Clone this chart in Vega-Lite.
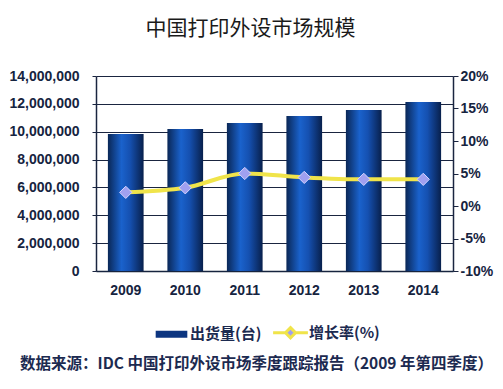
{
  "$schema": "https://vega.github.io/schema/vega-lite/v6.json",
  "width": 357,
  "height": 195,
  "autosize": {"type": "none"},
  "padding": {"left": 96, "top": 76, "right": 50, "bottom": 118},
  "background": "white",
  "config": {"view": {"stroke": null}},
  "title": {
    "text": "中国打印外设市场规模",
    "font": "Noto Sans CJK SC",
    "fontSize": 21,
    "fontWeight": "normal",
    "color": "#1a1a1a",
    "anchor": "middle",
    "baseline": "alphabetic",
    "offset": 13,
    "dx": -24
  },
  "data": {
    "values": [
      {"year": "2009", "shipments": 9830000, "growth": 2.1},
      {"year": "2010", "shipments": 10190000, "growth": 2.8},
      {"year": "2011", "shipments": 10620000, "growth": 5.0},
      {"year": "2012", "shipments": 11120000, "growth": 4.4},
      {"year": "2013", "shipments": 11560000, "growth": 4.1},
      {"year": "2014", "shipments": 12130000, "growth": 4.1}
    ]
  },
  "encoding": {
    "x": {
      "field": "year",
      "type": "ordinal",
      "scale": {"paddingInner": 0.4, "paddingOuter": 0.2},
      "axis": {
        "labelAngle": 0,
        "labelFont": "Liberation Sans",
        "labelFontWeight": "bold",
        "labelFontSize": 14,
        "labelColor": "#16243f",
        "labelPadding": 12,
        "ticks": false,
        "domainColor": "#16243f",
        "domainWidth": 1.5,
        "title": "数据来源：IDC 中国打印外设市场季度跟踪报告（2009 年第四季度）",
        "titleFont": "Noto Sans CJK SC",
        "titleFontSize": 15.5,
        "titleFontWeight": "bold",
        "titleColor": "#1c2a50",
        "titleAlign": "center",
        "titleBaseline": "middle",
        "titleX": 160,
        "titleY": 92
      }
    }
  },
  "layer": [
    {
      "mark": {
        "type": "bar",
        "fill": {
          "gradient": "linear",
          "x1": 0, "y1": 0, "x2": 1, "y2": 0,
          "stops": [
            {"offset": 0, "color": "#0a2756"},
            {"offset": 0.38, "color": "#1a62cc"},
            {"offset": 0.62, "color": "#1550b0"},
            {"offset": 1, "color": "#08204c"}
          ]
        }
      },
      "encoding": {
        "y": {
          "field": "shipments",
          "type": "quantitative",
          "scale": {"domain": [0, 14000000], "nice": false},
          "axis": {
            "values": [0, 2000000, 4000000, 6000000, 8000000, 10000000, 12000000, 14000000],
            "format": ",d",
            "title": null,
            "grid": true,
            "gridColor": "#1a2540",
            "gridWidth": 1,
            "gridOpacity": 1,
            "domainColor": "#1a2540",
            "domainWidth": 1.5,
            "tickColor": "#1a2540",
            "tickSize": 4,
            "labelPadding": 13,
            "labelOverlap": false,
            "labelFont": "Liberation Sans",
            "labelFontWeight": "bold",
            "labelFontSize": 14,
            "labelColor": "#16243f"
          }
        }
      }
    },
    {
      "encoding": {
        "y": {
          "field": "growth",
          "type": "quantitative",
          "scale": {"domain": [-10, 20], "nice": false},
          "axis": {
            "orient": "right",
            "values": [-10, -5, 0, 5, 10, 15, 20],
            "labelExpr": "datum.value + '%'",
            "labelOverlap": false,
            "title": null,
            "grid": false,
            "domainColor": "#1a2540",
            "domainWidth": 1.5,
            "tickColor": "#1a2540",
            "tickSize": 5,
            "labelPadding": 2,
            "labelFont": "Liberation Sans",
            "labelFontWeight": "bold",
            "labelFontSize": 14,
            "labelColor": "#16243f"
          }
        }
      },
      "layer": [
        {
          "mark": {"type": "line", "strokeWidth": 4, "interpolate": "monotone"},
          "encoding": {
            "color": {
              "datum": "增长率(%)",
              "scale": {"domain": ["出货量(台)", "增长率(%)"], "range": ["#0c3580", "#f0e44a"]},
              "legend": {
                "title": null,
                "orient": "none",
                "direction": "horizontal",
                "legendX": 68,
                "legendY": 249,
                "symbolSize": 1000,
                "labelFont": "Noto Sans CJK SC",
                "labelFontSize": 15,
                "labelFontWeight": "bold",
                "labelColor": "#1c2a50",
                "labelOffset": 11,
                "columnPadding": 5,
                "encode": {
                  "symbols": {
                    "update": {
                      "shape": {"signal": "datum.value === '出货量(台)' ? 'M-1,-0.22H1V0.22H-1Z' : 'M-1.1,0H-0.3M0.3,0H1.1M0,-0.32L0.32,0L0,0.32L-0.32,0Z'"},
                      "fill": {"signal": "datum.value === '出货量(台)' ? '#0c3580' : '#a0a0f0'"},
                      "stroke": {"signal": "datum.value === '出货量(台)' ? '#0c3580' : '#f0e44a'"},
                      "strokeWidth": {"signal": "datum.value === '出货量(台)' ? 0 : 3"},
                      "opacity": {"value": 1}
                    }
                  }
                }
              }
            }
          }
        },
        {
          "mark": {"type": "point", "shape": "diamond", "size": 150, "filled": true, "fill": "#a0a0f0", "stroke": "#d4d4ff", "strokeWidth": 1, "opacity": 1}
        }
      ]
    }
  ],
  "resolve": {"scale": {"y": "independent"}}
}
